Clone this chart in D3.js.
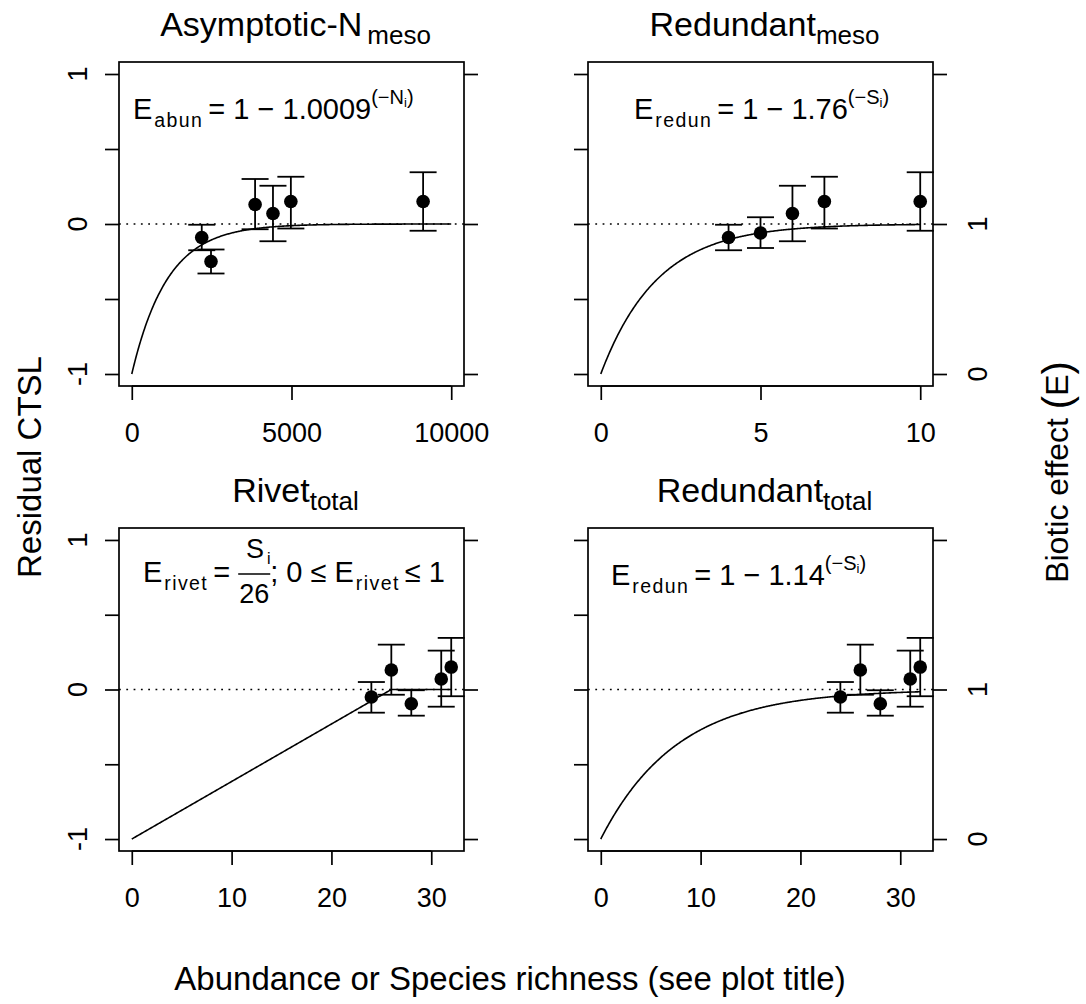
<!DOCTYPE html>
<html>
<head>
<meta charset="utf-8">
<script src="https://cdn.jsdelivr.net/npm/d3@7"></script>
<style>
  body { margin: 0; background: #fff; }
  svg { font-family: "Liberation Sans", Arial, Helvetica, sans-serif; }
  text { white-space: pre; fill: #000; }
</style>
</head>
<body>
<div id="chart"></div>
<script>
// values
const abunN   = [2190, 2480, 3860, 4420, 4980, 9120];
const abunRes = [-0.09, -0.25, 0.13, 0.07, 0.15, 0.15];
const abunLo  = [-0.175, -0.33, -0.035, -0.115, -0.03, -0.045];
const abunHi  = [-0.005, -0.17, 0.30, 0.255, 0.315, 0.345];

const mesoS   = [4, 5, 6, 7, 10];
const mesoRes = [-0.09, -0.06, 0.07, 0.15, 0.15];
const mesoLo  = [-0.175, -0.16, -0.115, -0.03, -0.045];
const mesoHi  = [-0.005, 0.045, 0.255, 0.315, 0.345];

const totalS   = [24, 26, 28, 31, 32];
const totalRes = [-0.05, 0.13, -0.095, 0.07, 0.15];
const totalLo  = [-0.155, -0.035, -0.175, -0.115, -0.045];
const totalHi  = [0.05, 0.30, -0.005, 0.26, 0.345];

// fitted models printed in the panels
const abunBase = 1.0009, mesoBase = 1.76, totalBase = 1.14, rivetMax = 26;

const yTicks = [-1, -0.5, 0, 0.5, 1];
const yTickLabels = ["-1", "", "0", "", "1"];
const eTicks = [-1, 0, 1];
const eTickLabels = ["0", "1", ""];
const xTicksAbun = [0, 5000, 10000];
const xTicksMeso = [0, 5, 10];
const xTicksTotal = [0, 10, 20, 30];

const W = 1086, H = 1004;
const FT = 27, FM = 29, FSUB = 19.5, FSUP = 20, FSS = 13;
const LW = 1.7;

const svg = d3.select("#chart").append("svg")
  .attr("width", W).attr("height", H);

const P = (t, size, dy = 0, ls = 0, dx = 0) => ({t, size, dy, ls, dx});

function mathText(g, x, y, pieces, anchor = "start") {
  const t = g.append("text").attr("x", x).attr("y", y).attr("text-anchor", anchor);
  let off = 0;
  pieces.forEach(p => {
    t.append("tspan").attr("dy", p.dy - off).attr("dx", p.dx)
      .style("font-size", p.size + "px")
      .style("letter-spacing", p.ls + "px")
      .text(p.t);
    off = p.dy;
  });
  return t;
}

function expFormula(sub, base, v) {
  return [P("E", FM), P(sub, FSUB, 8, 1.4, 2), P("= 1 \u2212 " + base, FM, 0, 0, 5),
          P("(\u2212" + v, FSUP, -15), P("i", FSS, -12), P(")", FSUP, -15)];
}

const panels = [
  { box: [119, 464, 62, 386], xd: [-400, 10400], xt: xTicksAbun,
    xs: abunN, ys: abunRes, lo: abunLo, hi: abunHi,
    f: n => -Math.pow(abunBase, -n), fx: [0, 10000],
    title: ["Asymptotic-N", "meso", 5], left: true,
    formula: g => mathText(g, 133, 119, expFormula("abun", abunBase, "N")) },
  { box: [588, 933, 62, 386], xd: [-0.4, 10.4], xt: xTicksMeso,
    xs: mesoS, ys: mesoRes, lo: mesoLo, hi: mesoHi,
    f: s => -Math.pow(mesoBase, -s), fx: [0, 10],
    title: ["Redundant", "meso", 0], left: false,
    formula: g => mathText(g, 634, 119, expFormula("redun", mesoBase, "S")) },
  { box: [119, 464, 528, 851], xd: [-1.28, 33.28], xt: xTicksTotal,
    xs: totalS, ys: totalRes, lo: totalLo, hi: totalHi,
    f: s => Math.min(s / rivetMax, 1) - 1, fx: [0, 32], kink: rivetMax,
    title: ["Rivet", "total", 0], left: true,
    formula: g => {
      const x0 = 143, y0 = 582;
      const t1 = mathText(g, x0, y0, [P("E", FM), P("rivet", FSUB, 8, 1.4, 2), P("= ", FM, 0, 0, 5)]);
      const fx0 = x0 + t1.node().getBBox().width;
      const den = g.append("text").attr("x", fx0 + 1).attr("y", y0 + 21)
        .style("font-size", "27px").text(rivetMax);
      const bw = den.node().getComputedTextLength() + 2;
      g.append("line").attr("x1", fx0).attr("x2", fx0 + bw)
        .attr("y1", y0 - 8).attr("y2", y0 - 8).attr("stroke", "#000").attr("stroke-width", 1.6);
      mathText(g, fx0 + bw / 2 + 4, y0 - 24, [P("S", 27), P("i", FSS + 3, 6, 0, 3)], "middle");
      mathText(g, fx0 + bw, y0, [P("; 0 \u2264 E", FM), P("rivet", FSUB, 8, 1.4, 2), P("\u2264 1", FM, 0, 0, 5)]);
    } },
  { box: [588, 933, 528, 851], xd: [-1.28, 33.28], xt: xTicksTotal,
    xs: totalS, ys: totalRes, lo: totalLo, hi: totalHi,
    f: s => -Math.pow(totalBase, -s), fx: [0, 32],
    title: ["Redundant", "total", 0], left: false,
    formula: g => mathText(g, 611, 585, expFormula("redun", totalBase, "S")) }
];

panels.forEach(p => {
  const [l, r, t, b] = p.box;
  const g = svg.append("g");
  const x = d3.scaleLinear().domain(p.xd).range([l, r]);
  const y = d3.scaleLinear().domain([-1.08, 1.08]).range([b, t]);

  // x axis
  const xa = g.append("g").attr("transform", `translate(0,${b})`)
    .call(d3.axisBottom(x).tickValues(p.xt).tickSize(14).tickSizeOuter(0).tickFormat(d3.format("d")));
  xa.select(".domain").remove();
  xa.selectAll("line").attr("stroke-width", LW);
  xa.selectAll("text").attr("y", 56).attr("dy", null)
    .style("font-size", FT + "px").style("font-family", null);
  g.append("line").attr("x1", x(p.xt[0])).attr("x2", x(p.xt[p.xt.length - 1]))
    .attr("y1", b).attr("y2", b).attr("stroke", "#000").attr("stroke-width", LW);

  // left axis
  const ya = g.append("g").attr("transform", `translate(${l},0)`)
    .call(d3.axisLeft(y).tickValues(yTicks).tickSize(14).tickSizeOuter(0).tickFormat(""));
  ya.select(".domain").remove();
  ya.selectAll("line").attr("stroke-width", LW);
  if (p.left) {
    g.selectAll(".ylab").data(yTicks).join("text")
      .attr("transform", d => `translate(${l - 32},${y(d)}) rotate(-90)`)
      .attr("text-anchor", "middle").style("font-size", FT + "px")
      .text((d, i) => yTickLabels[i]);
  }

  // right axis (biotic effect)
  const ra = g.append("g").attr("transform", `translate(${r},0)`)
    .call(d3.axisRight(y).tickValues(eTicks).tickSize(14).tickSizeOuter(0).tickFormat(""));
  ra.select(".domain").remove();
  ra.selectAll("line").attr("stroke-width", LW);
  if (!p.left) {
    g.selectAll(".elab").data(eTicks).join("text")
      .attr("transform", d => `translate(${r + 54},${y(d)}) rotate(-90)`)
      .attr("text-anchor", "middle").style("font-size", FT + "px")
      .text((d, i) => eTickLabels[i]);
  }

  // zero reference
  g.append("line").attr("x1", l).attr("x2", r).attr("y1", y(0)).attr("y2", y(0))
    .attr("stroke", "#000").attr("stroke-width", 1.7).attr("stroke-dasharray", "1.8,5.5");

  // fitted curve
  const step = (p.fx[1] - p.fx[0]) / 400;
  const cx = d3.range(p.fx[0], p.fx[1] + step / 2, step);
  if (p.kink) cx.push(p.kink);
  cx.sort((a, c) => a - c);
  g.append("path").datum(cx)
    .attr("fill", "none").attr("stroke", "#000").attr("stroke-width", 1.6)
    .attr("d", d3.line().x(d => x(d)).y(d => y(p.f(d))));

  // error bars
  const cap = 13.5;
  const eb = g.append("g").attr("stroke", "#000").attr("stroke-width", 1.8);
  p.xs.forEach((xv, i) => {
    eb.append("line").attr("x1", x(xv)).attr("x2", x(xv)).attr("y1", y(p.lo[i])).attr("y2", y(p.hi[i]));
    eb.append("line").attr("x1", x(xv) - cap).attr("x2", x(xv) + cap).attr("y1", y(p.lo[i])).attr("y2", y(p.lo[i]));
    eb.append("line").attr("x1", x(xv) - cap).attr("x2", x(xv) + cap).attr("y1", y(p.hi[i])).attr("y2", y(p.hi[i]));
  });
  g.selectAll(".pt").data(p.xs).join("circle")
    .attr("cx", d => x(d)).attr("cy", (d, i) => y(p.ys[i])).attr("r", 6.8).attr("fill", "#000");

  // box
  g.append("rect").attr("x", l).attr("y", t).attr("width", r - l).attr("height", b - t)
    .attr("fill", "none").attr("stroke", "#000").attr("stroke-width", LW);

  // title and formula
  mathText(g, (l + r) / 2 + 4, t - 26,
    [P(p.title[0], 34), P(p.title[1], 26, 8, 0, p.title[2])], "middle");
  p.formula(g);
});

// outer labels
svg.append("text").attr("transform", "translate(41,467) rotate(-90)")
  .attr("text-anchor", "middle").style("font-size", "33px").text("Residual CTSL");

mathText(svg.append("g").attr("transform", "translate(1068,472) rotate(-90)"), 0, 0,
  [P("Biotic effect ", 32), P("(", 40, 3), P("E", 32, 0), P(")", 40, 3)], "middle");

svg.append("text").attr("x", 510).attr("y", 990)
  .attr("text-anchor", "middle").style("font-size", "33px")
  .text("Abundance or Species richness (see plot title)");
</script>
</body>
</html>
